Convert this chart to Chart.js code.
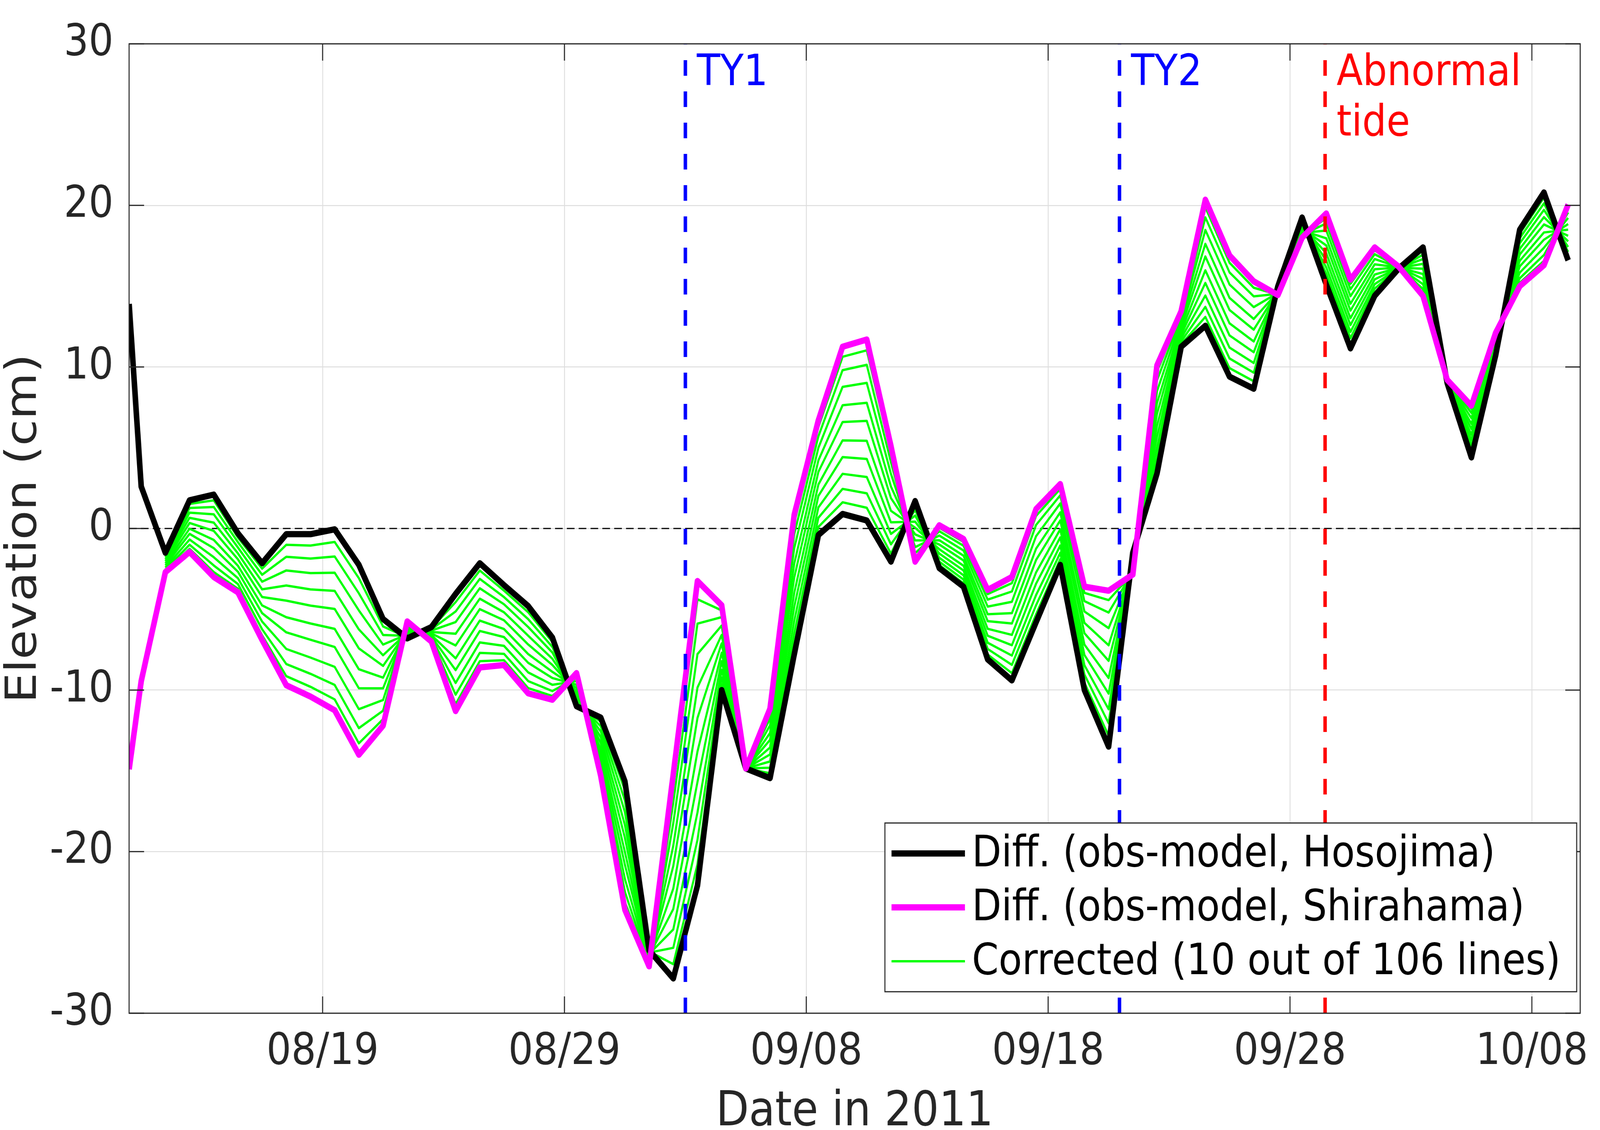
<!DOCTYPE html>
<html lang="en">
<head>
    <meta charset="UTF-8">
    <title>Elevation difference, Hosojima and Shirahama, 2011</title>
    <script src="https://cdn.jsdelivr.net/npm/chart.js"></script>
    <style>
        html, body {
            margin: 0;
            padding: 0;
            background: #fff;
            overflow: hidden;
        }
    </style>
</head>
<body>
    <!-- drawn at 4598x2893, then fitted to whatever the window really is -->
    <canvas id="chart" width="4598" height="2893" style="display:block;width:100vw;height:100vh"></canvas>

    <script>
        // x = day counted from 1 Aug 2011 (08/19 = 19, 09/08 = 39, 10/08 = 69)
        const days = [11, 11.5, 12.5, 13.5, 14.5, 15.5, 16.5, 17.5, 18.5, 19.5, 20.5,
            21.5, 22.5, 23.5, 24.5, 25.5, 26.5, 27.5, 28.5, 29.5, 30.5,
            31.5, 32.5, 33.5, 34.5, 35.5, 36.5, 37.5, 38.5, 39.5, 40.5,
            41.5, 42.5, 43.5, 44.5, 45.5, 46.5, 47.5, 48.5, 49.5, 50.5,
            51.5, 52.5, 53.5, 54.5, 55.5, 56.5, 57.5, 58.5, 59.5, 60.5,
            61.5, 62.5, 63.5, 64.5, 65.5, 66.5, 67.5, 68.5, 69.5, 70.5];

        // obs - model, cm
        const hosojima = [13.9, 2.6, -1.5, 1.75, 2.1, -0.3, -2.15, -0.35, -0.35, -0.05, -2.25,
            -5.6, -6.8, -6.1, -4.05, -2.15, -3.5, -4.8, -6.75, -11.0, -11.7,
            -15.65, -26.1, -27.85, -22.1, -10.0, -14.85, -15.45, -7.8, -0.4, 0.9,
            0.5, -2.05, 1.7, -2.45, -3.6, -8.1, -9.4, -5.8, -2.25, -10.0,
            -13.5, -1.5, 3.4, 11.25, 12.55, 9.4, 8.65, 15.0, 19.25, 15.1,
            11.15, 14.4, 16.1, 17.4, 9.0, 4.4, 10.7, 18.5, 20.8, 16.6];

        const shirahama = [-14.9, -9.45, -2.7, -1.45, -3.0, -3.95, -6.9, -9.7, -10.4, -11.25, -14.0,
            -12.2, -5.75, -7.0, -11.3, -8.6, -8.45, -10.2, -10.6, -8.95, -15.3,
            -23.6, -27.1, -15.2, -3.25, -4.75, -14.85, -11.15, 0.85, 6.7, 11.25,
            11.7, 5.1, -2.05, 0.2, -0.65, -3.8, -3.0, 1.2, 2.75, -3.6,
            -3.85, -2.85, 10.1, 13.45, 20.35, 16.9, 15.3, 14.45, 18.0, 19.5,
            15.4, 17.4, 16.2, 14.4, 9.2, 7.6, 12.1, 15.0, 16.3, 20.05];

        // where each drawn corrected line sits between Hosojima (0) and Shirahama (1)
        const correctedShares = [0.07, 0.15, 0.24, 0.34, 0.44, 0.55, 0.65, 0.76, 0.86, 0.94];
        const correctedFirst = 2; // corrected lines start at 08/12 12:00

        const xTickValues = [19, 29, 39, 49, 59, 69];
        const xTickLabels = ['08/19', '08/29', '09/08', '09/18', '09/28', '10/08'];

        const eventDays = [34, 51.95, 60.45];
        const eventLabels = [['TY1'], ['TY2'], ['Abnormal', 'tide']];

        const legendLabels = ['Diff. (obs-model, Hosojima)', 'Diff. (obs-model, Shirahama)',
            'Corrected (10 out of 106 lines)'];

        // styles
        const FONT = 'DejaVu Sans';
        const AXIS = '#262626';
        const BLACK = '#000000';
        const MAGENTA = '#ff00ff';
        const GREEN = '#00ff00';
        const eventColors = ['#0000ff', '#0000ff', '#ff0000'];

        const pts = (vals, from = 0) => vals.slice(from).map((v, i) => ({ x: days[i + from], y: v }));

        const lineStyle = {
            pointRadius: 0,
            tension: 0,
            fill: false,
            borderJoinStyle: 'round',
            borderCapStyle: 'butt'
        };

        const datasets = [];

        // zero reference line
        datasets.push({ ...lineStyle, data: [{ x: 11, y: 0 }, { x: 71, y: 0 }],
            borderColor: BLACK, borderWidth: 3, borderDash: [22, 12], order: 60 });

        correctedShares.forEach(s => {
            const vals = hosojima.map((h, i) => h + s * (shirahama[i] - h));
            datasets.push({ ...lineStyle, data: pts(vals, correctedFirst),
                borderColor: GREEN, borderWidth: 6, order: 40 });
        });

        datasets.push({ ...lineStyle, data: pts(hosojima), borderColor: BLACK, borderWidth: 16, order: 30 });
        datasets.push({ ...lineStyle, data: pts(shirahama), borderColor: MAGENTA, borderWidth: 16, order: 20 });

        eventDays.forEach((d, i) => {
            datasets.push({ ...lineStyle, data: [{ x: d, y: -30 }, { x: d, y: 30 }],
                borderColor: eventColors[i], borderWidth: 10, borderDash: [40, 40], order: 10 });
        });

        const matlabFrame = {
            id: 'matlabFrame',
            afterDraw(chart) {
                const { ctx, chartArea: a, scales: { x, y } } = chart;
                const tickLen = 43;
                ctx.save();

                // box with inward ticks
                ctx.strokeStyle = AXIS;
                ctx.lineWidth = 3;
                ctx.setLineDash([]);
                ctx.strokeRect(a.left, a.top, a.right - a.left, a.bottom - a.top);
                ctx.beginPath();
                x.ticks.forEach(t => {
                    const px = x.getPixelForValue(t.value);
                    ctx.moveTo(px, a.bottom); ctx.lineTo(px, a.bottom - tickLen);
                    ctx.moveTo(px, a.top); ctx.lineTo(px, a.top + tickLen);
                });
                y.ticks.forEach(t => {
                    const py = y.getPixelForValue(t.value);
                    ctx.moveTo(a.left, py); ctx.lineTo(a.left + tickLen, py);
                    ctx.moveTo(a.right, py); ctx.lineTo(a.right - tickLen, py);
                });
                ctx.stroke();

                // event labels
                ctx.font = `110px "${FONT}"`;
                ctx.textAlign = 'left';
                ctx.textBaseline = 'alphabetic';
                eventDays.forEach((d, i) => {
                    ctx.fillStyle = eventColors[i];
                    const px = x.getPixelForValue(d) + 33;
                    eventLabels[i].forEach((line, j) => ctx.fillText(line, px, 218 + j * 129));
                });

                // legend
                const box = { left: 2543, top: 2107, right: 4531, bottom: 2539 };
                ctx.fillStyle = '#ffffff';
                ctx.fillRect(box.left, box.top, box.right - box.left, box.bottom - box.top);
                ctx.strokeStyle = AXIS;
                ctx.lineWidth = 3;
                ctx.strokeRect(box.left, box.top, box.right - box.left, box.bottom - box.top);
                const rowY = [2185, 2323, 2461];
                const swatch = [[BLACK, 16], [MAGENTA, 16], [GREEN, 6]];
                legendLabels.forEach((label, i) => {
                    ctx.strokeStyle = swatch[i][0];
                    ctx.lineWidth = swatch[i][1];
                    ctx.beginPath();
                    ctx.moveTo(2562, rowY[i]);
                    ctx.lineTo(2773, rowY[i]);
                    ctx.stroke();
                    ctx.fillStyle = BLACK;
                    ctx.textBaseline = 'middle';
                    ctx.fillText(label, 2793, rowY[i] + 4);
                });

                // axis titles
                ctx.fillStyle = AXIS;
                ctx.font = `123px "${FONT}"`;
                ctx.textAlign = 'center';
                ctx.textBaseline = 'alphabetic';
                ctx.fillText('Date in 2011', (a.left + a.right) / 2, 2881);
                ctx.translate(103, (a.top + a.bottom) / 2);
                ctx.rotate(-Math.PI / 2);
                ctx.fillText('Elevation (cm)', 0, 0);

                ctx.restore();
            }
        };

        new Chart(document.getElementById('chart'), {
            type: 'line',
            data: { datasets },
            options: {
                responsive: false,
                animation: false,
                devicePixelRatio: 1,
                layout: { padding: { top: 54, right: 14, left: 0, bottom: 0 } },
                plugins: {
                    legend: { display: false },
                    tooltip: { enabled: false }
                },
                scales: {
                    x: {
                        type: 'linear',
                        min: 11,
                        max: 71,
                        afterBuildTicks: s => { s.ticks = xTickValues.map(v => ({ value: v })); },
                        afterFit: s => { s.height = 299; },
                        ticks: {
                            callback: v => xTickLabels[xTickValues.indexOf(v)],
                            font: { family: FONT, size: 112 },
                            color: AXIS,
                            padding: 34,
                            maxRotation: 0,
                            autoSkip: false
                        },
                        grid: { color: '#dedede', lineWidth: 2.5, drawTicks: false },
                        border: { display: false }
                    },
                    y: {
                        min: -30,
                        max: 30,
                        afterFit: s => { s.width = 371; },
                        ticks: {
                            stepSize: 10,
                            callback: v => String(v),
                            font: { family: FONT, size: 112 },
                            color: AXIS,
                            padding: 45
                        },
                        grid: { color: '#dedede', lineWidth: 2.5, drawTicks: false },
                        border: { display: false }
                    }
                }
            },
            plugins: [matlabFrame]
        });
    </script>
</body>
</html>
